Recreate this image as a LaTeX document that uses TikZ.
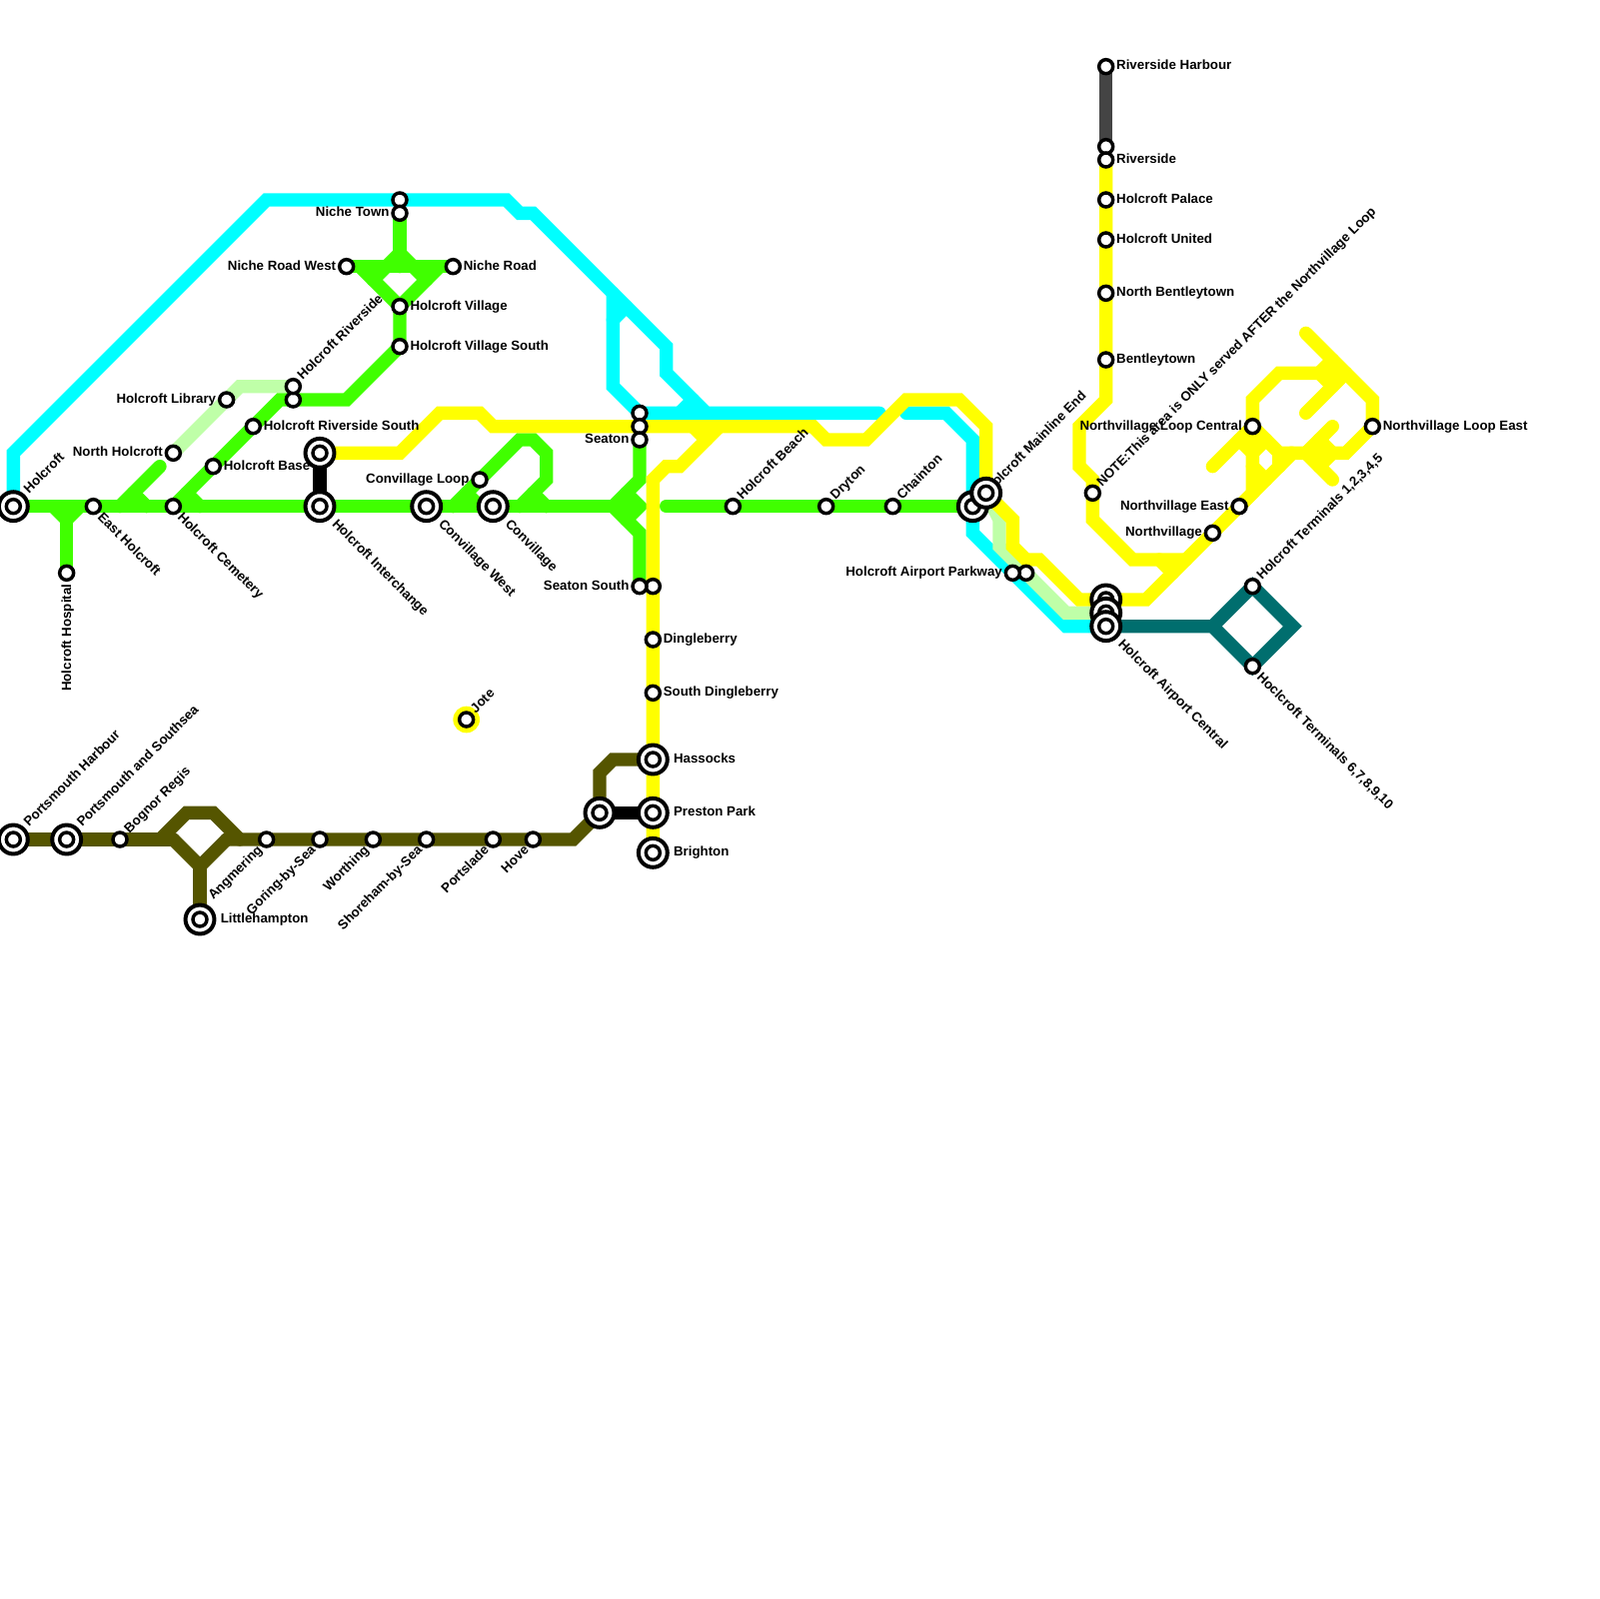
\documentclass[tikz,border=0pt]{standalone}
\usepackage{fontspec}
\setmainfont{Liberation Sans}
\usetikzlibrary{backgrounds}
\definecolor{lnCyan}{RGB}{0,255,255}
\definecolor{lnGreen}{RGB}{64,255,0}
\definecolor{lnPale}{RGB}{191,255,168}
\definecolor{lnYellow}{RGB}{255,255,0}
\definecolor{lnOlive}{RGB}{85,85,0}
\definecolor{lnTeal}{RGB}{0,110,110}
\definecolor{lnGrey}{RGB}{68,68,68}
\tikzset{
  route/.style={line width=3mm, line cap=round},
  stn/.style={circle, draw=black, fill=white, line width=0.78mm, minimum size=3.15mm, inner sep=0pt},
  stnx/.style={circle, draw=black, fill=white, line width=0.9mm, minimum size=6.5mm, inner sep=0pt},
  lblE/.style={anchor=base west, inner sep=0pt, xshift=2.3mm, yshift=-0.75mm},
  lblW/.style={anchor=base east, inner sep=0pt, xshift=-2.3mm, yshift=-0.75mm},
  lblNE/.style={anchor=base west, inner sep=0pt, xshift=2.1mm, yshift=1.3mm, rotate=45},
  lblNEh/.style={anchor=base west, inner sep=0pt, xshift=0.95mm, yshift=-0.1mm, rotate=45},
  lblSE/.style={anchor=base west, inner sep=0pt, xshift=0.8mm, yshift=-2.6mm, rotate=-45},
  lblSW/.style={anchor=base east, inner sep=0pt, xshift=-0.75mm, yshift=-2.5mm, rotate=45},
  lblS/.style={anchor=base east, inner sep=0pt, xshift=1mm, yshift=-2.5mm, rotate=90},
  lblEx/.style={anchor=base west, inner sep=0pt, xshift=4.6mm, yshift=-0.75mm},
  lblNEx/.style={anchor=base west, inner sep=0pt, xshift=3.5mm, yshift=2.7mm, rotate=45},
  lblSEx/.style={anchor=base west, inner sep=0pt, xshift=2.6mm, yshift=-4.1mm, rotate=-45}
}
\begin{document}
\begin{tikzpicture}[x=3mm, y=-3mm, font=\fontsize{8.5}{10}\selectfont\bfseries]
\useasboundingbox (0,0) rectangle (120,120);

% interchanges without a name
\foreach \n/\x/\y in {mlw/73/38, hix/24/34, pjn/45/61, ac1/83/45, ac2/83/46}
{
  \node[stnx] (\n) at (\x,\y) {};
  \node[stn] (\n-c) at (\n) {};
}
% stops without a name
\foreach \n/\x/\y in {nt0/30/15, hr0/22/30, st0/48/31, st1/48/32, ss0/49/44, rv0/83/11, pk0/77/43}
{
  \node[stn] (\n) at (\x,\y) {};
}

% interchanges: name / x / y / label style / text
\foreach \n/\x/\y/\s/\t in {
  hol/1/38/lblNEx/{Holcroft},
  hin/24/38/lblSEx/{Holcroft Interchange},
  cvw/32/38/lblSEx/{Convillage West},
  cvl/37/38/lblSEx/{Convillage},
  mle/74/37/lblNEh/{Holcroft Mainline End},
  hac/83/47/lblSEx/{Holcroft Airport Central},
  psh/1/63/lblNEx/{Portsmouth Harbour},
  pss/5/63/lblNEx/{Portsmouth and Southsea},
  lit/15/69/lblEx/{Littlehampton},
  has/49/57/lblEx/{Hassocks},
  prp/49/61/lblEx/{Preston Park},
  bri/49/64/lblEx/{Brighton}}
{
  \node[\s] (\n-t) at (\x,\y) {\t};
  \node[stnx] (\n) at (\x,\y) {};
  \node[stn] (\n-c) at (\n) {};
}

% stops: name / x / y / label style / text
\foreach \n/\x/\y/\s/\t in {
  eho/7/38/lblSE/{East Holcroft},
  hos/5/43/lblS/{Holcroft Hospital},
  nho/13/34/lblW/{North Holcroft},
  cem/13/38/lblSE/{Holcroft Cemetery},
  lib/17/30/lblW/{Holcroft Library},
  bas/16/35/lblE/{Holcroft Base},
  rvs/19/32/lblE/{Holcroft Riverside South},
  riv/22/29/lblNE/{Holcroft Riverside},
  ntn/30/16/lblW/{Niche Town},
  nrw/26/20/lblW/{Niche Road West},
  nrd/34/20/lblE/{Niche Road},
  vil/30/23/lblE/{Holcroft Village},
  vis/30/26/lblE/{Holcroft Village South},
  cvp/36/36/lblW/{Convillage Loop},
  sea/48/33/lblW/{Seaton},
  sso/48/44/lblW/{Seaton South},
  din/49/48/lblE/{Dingleberry},
  sdi/49/52/lblE/{South Dingleberry},
  bch/55/38/lblNE/{Holcroft Beach},
  dry/62/38/lblNE/{Dryton},
  cha/67/38/lblNE/{Chainton},
  pkw/76/43/lblW/{Holcroft Airport Parkway},
  rhb/83/5/lblE/{Riverside Harbour},
  rvr/83/12/lblE/{Riverside},
  pal/83/15/lblE/{Holcroft Palace},
  utd/83/18/lblE/{Holcroft United},
  nbt/83/22/lblE/{North Bentleytown},
  ben/83/27/lblE/{Bentleytown},
  nte/82/37/lblNE/{NOTE:This area is ONLY served AFTER the Northvillage Loop},
  nvl/91/40/lblW/{Northvillage},
  nve/93/38/lblW/{Northvillage East},
  nlc/94/32/lblW/{Northvillage Loop Central},
  nle/103/32/lblE/{Northvillage Loop East},
  tm1/94/44/lblNE/{Holcroft Terminals 1,2,3,4,5},
  tm2/94/50/lblSE/{Hoclcroft Terminals 6,7,8,9,10},
  jot/35/54/lblNE/{Jote},
  bog/9/63/lblNE/{Bognor Regis},
  ang/20/63/lblSW/{Angmering},
  gor/24/63/lblSW/{Goring-by-Sea},
  wor/28/63/lblSW/{Worthing},
  sho/32/63/lblSW/{Shoreham-by-Sea},
  por/37/63/lblSW/{Portslade},
  hov/40/63/lblSW/{Hove}}
{
  \node[\s] (\n-t) at (\x,\y) {\t};
  \node[stn] (\n) at (\x,\y) {};
}

\begin{scope}[on background layer]
% cyan
\draw[route, lnCyan] (hol.center) -- (1,34) -- (20,15) -- (38,15) -- (39,16) -- (40,16) -- (50,26) -- (50,28) -- (53,31) -- (66,31);
\draw[route, lnCyan] (46,22) -- (46,29) -- (st0.center) -- (53,31);
\draw[route, lnCyan] (46,24) -- (47,23);
\draw[route, lnCyan] (51,31) -- (52,30);
\draw[route, lnCyan] (68,31) -- (71,31) -- (73,33) -- (73,40) -- (80,47) -- (hac.center);
% pale green
\draw[route, lnPale] (nho.center) -- (18,29) -- (riv.center);
\draw[route, lnPale] (mle.center) -- (75,39) -- (75,41) -- (80,46) -- (ac2.center);
% green
\draw[route, lnGreen] (hol.center) -- (47,38);
\draw[route, lnGreen] (50,38) -- (mlw.center);
\draw[route, lnGreen] (4,38) -- (5,39) -- (6,38);
\draw[route, lnGreen] (5,39) -- (hos.center);
\draw[route, lnGreen] (12,35) -- (9,38);
\draw[route, lnGreen] (10,37) -- (11,38);
\draw[route, lnGreen] (cem.center) -- (21,30) -- (26,30) -- (vis.center) -- (vil.center);
\draw[route, lnGreen] (14,37) -- (15,38);
\draw[route, lnGreen] (ntn.center) -- (30,20);
\draw[route, lnGreen] (nrw.center) -- (nrd.center);
\draw[route, lnGreen] (27,20) -- (vil.center) -- (33,20);
\draw[route, lnGreen] (28,21) -- (30,19) -- (32,21);
\draw[route, lnGreen] (34,38) -- (39,33) -- (40,33) -- (41,34) -- (41,36) -- (39,38);
\draw[route, lnGreen] (35,37) -- (36,38);
\draw[route, lnGreen] (40,37) -- (41,38);
\draw[route, lnGreen] (sea.center) -- (48,36) -- (46,38) -- (48,40) -- (sso.center);
\draw[route, lnGreen] (47,37) -- (48,38) -- (47,39);
% olive
\draw[route, lnOlive] (psh.center) -- (13,63);
\draw[route, lnOlive] (17,63) -- (43,63) -- (pjn.center) -- (45,58) -- (46,57) -- (has.center);
\draw[route, lnOlive] (12,63) -- (14,61) -- (16,61) -- (18,63);
\draw[route, lnOlive] (13,63) -- (15,65) -- (17,63);
\draw[route, lnOlive] (15,65) -- (lit.center);
% yellow
\draw[route, lnYellow] (hix.center) -- (30,34) -- (33,31) -- (36,31) -- (37,32) -- (61,32) -- (62,33) -- (65,33) -- (68,30) -- (72,30) -- (74,32) -- (mle.center);
\draw[route, lnYellow] (bri.center) -- (49,36) -- (50,35) -- (51,35) -- (54,32);
\draw[route, lnYellow] (52,32) -- (53,33);
\draw[route, lnYellow] (mle.center) -- (76,39) -- (76,41) -- (77,42) -- (78,42) -- (81,45) -- (86,45) -- (97,34) -- (101,34) -- (103,32) -- (103,30) -- (98,25);
\draw[route, lnYellow] (rvr.center) -- (83,30) -- (81,32) -- (81,35) -- (82,36) -- (82,39) -- (85,42) -- (89,42);
\draw[route, lnYellow] (87,42) -- (88,43);
\draw[route, lnYellow] (97,34) -- (96,34) -- (94,32) -- (94,30) -- (96,28) -- (101,28);
\draw[route, lnYellow] (99,28) -- (100,27);
\draw[route, lnYellow] (99,28) -- (100,29);
\draw[route, lnYellow] (98,31) -- (101,28);
\draw[route, lnYellow] (100,32) -- (98,34) -- (100,36);
\draw[route, lnYellow] (99,33) -- (100,34) -- (99,35);
\draw[route, lnYellow] (91,35) -- (94,32) -- (94,37) -- (93,38);
\draw[route, lnYellow] (93,33) -- (94,34);
\draw[route, lnYellow] (94,34) -- (95,33);
\draw[route, lnYellow] (94,35) -- (95,36);
\draw[route, lnYellow] (96,34) -- (96,35);
\fill[lnYellow] (jot) circle (1);
% teal, grey, black
\draw[route, lnTeal] (hac.center) -- (91,47) -- (tm1.center) -- (97,47) -- (tm2.center) -- (91,47);
\draw[route, lnGrey] (rhb.center) -- (rv0.center);
\draw[route, black] (hix.center) -- (hin.center);
\draw[route, black] (pjn.center) -- (prp.center);
\end{scope}
\end{tikzpicture}
\end{document}
